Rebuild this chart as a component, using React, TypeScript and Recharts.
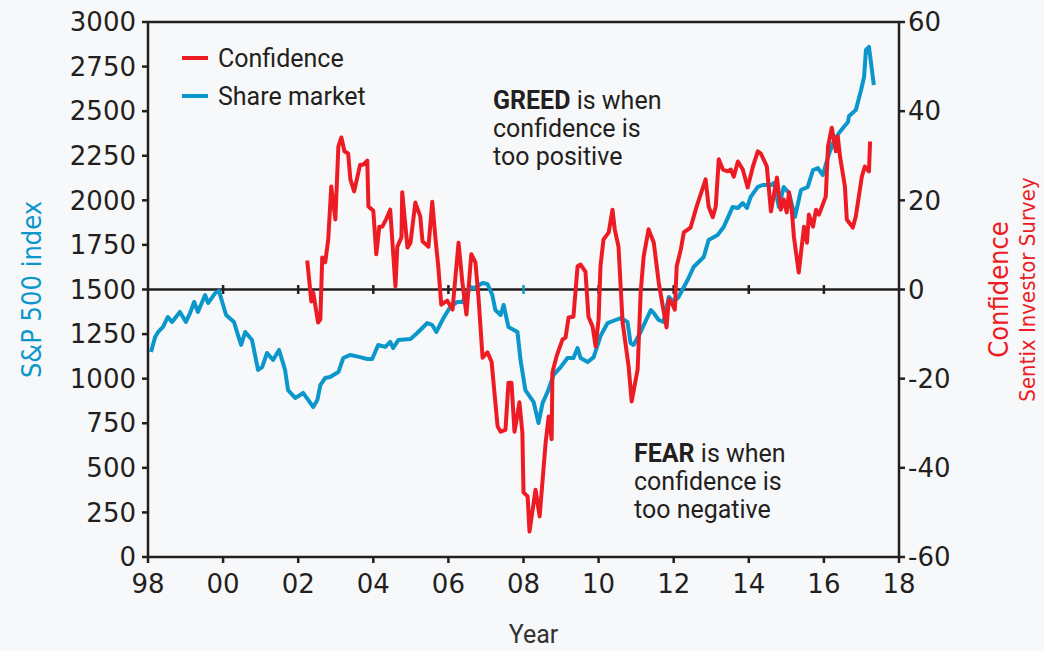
import { LineChart, Line, XAxis, YAxis, ReferenceLine, Label } from "recharts";

// Palette.
const INK = "#231f20";
const RED = "#ed1c24";
const BLUE = "#0b97cb";
const BG = "#f7f8f9";

const TICK_FONT = '"DejaVu Sans", sans-serif';
const TEXT_FONT = 'Roboto, "Noto Sans", sans-serif';
const NARROW_FONT = '"Liberation Sans Narrow", "DejaVu Sans Condensed", sans-serif';

const YEAR_TICKS = [1998, 2000, 2002, 2004, 2006, 2008, 2010, 2012, 2014, 2016, 2018];
const ZERO_LINE_TICKS = [2000, 2002, 2004, 2006, 2008, 2010, 2012, 2014, 2016];
const SP_TICKS = [0, 250, 500, 750, 1000, 1250, 1500, 1750, 2000, 2250, 2500, 2750, 3000];
const CONF_TICKS = [-60, -40, -20, 0, 20, 40, 60];

// S&P 500 index
const SHARE_YEARS = [
  1998.08, 1998.19, 1998.27, 1998.4, 1998.53, 1998.64, 1998.85,
  1999.01, 1999.12, 1999.23, 1999.33, 1999.52, 1999.6, 1999.79, 1999.89,
  2000.0, 2000.08, 2000.29, 2000.37, 2000.48, 2000.59, 2000.77, 2000.93,
  2001.04, 2001.17, 2001.33, 2001.49, 2001.57, 2001.65, 2001.73, 2001.92,
  2002.05, 2002.13, 2002.27, 2002.4, 2002.51, 2002.59, 2002.72, 2002.85,
  2003.07, 2003.2, 2003.39, 2003.65, 2003.84, 2003.97,
  2004.13, 2004.32, 2004.45, 2004.53, 2004.67, 2004.99,
  2005.17, 2005.44, 2005.57, 2005.68, 2005.87,
  2006.05, 2006.24, 2006.37, 2006.59, 2006.69, 2006.91,
  2007.04, 2007.17, 2007.25, 2007.39, 2007.47, 2007.6, 2007.84, 2007.92,
  2008.05, 2008.27, 2008.4, 2008.51, 2008.64, 2008.8, 2008.99,
  2009.17, 2009.33, 2009.44, 2009.52, 2009.71, 2009.87,
  2010.05, 2010.24, 2010.45, 2010.59, 2010.77, 2010.85, 2010.93,
  2011.12, 2011.39, 2011.47, 2011.6, 2011.73, 2011.87,
  2012.0, 2012.13, 2012.37, 2012.53, 2012.8, 2012.93,
  2013.17, 2013.33, 2013.57, 2013.71, 2013.84, 2013.95,
  2014.05, 2014.24, 2014.37, 2014.59, 2014.67, 2014.8, 2014.93,
  2015.07, 2015.23, 2015.39, 2015.57, 2015.71, 2015.84, 2015.97,
  2016.11, 2016.24, 2016.4, 2016.64, 2016.67, 2016.85, 2016.99,
  2017.07, 2017.12, 2017.2, 2017.33,
];
const SHARE_VALUES = [
  1150, 1234, 1262, 1290, 1346, 1318, 1374,
  1318, 1368, 1430, 1374, 1469, 1424, 1480, 1492,
  1413, 1357, 1318, 1262, 1189, 1262, 1217, 1049,
  1065, 1144, 1105, 1161, 1105, 1049, 936, 892,
  908, 920, 880, 841, 880, 964, 1004, 1009,
  1037, 1116, 1133, 1121, 1110, 1110,
  1189, 1178, 1206, 1172, 1217, 1222,
  1256, 1312, 1301, 1262, 1340,
  1402, 1430, 1430, 1514, 1508, 1536,
  1531, 1469, 1385, 1357, 1413, 1290, 1262, 1105,
  936, 869, 751, 864, 925, 1021, 1065,
  1116, 1116, 1172, 1116, 1093, 1121,
  1239, 1312, 1329, 1340, 1318, 1200, 1189,
  1262, 1385, 1368, 1329, 1318, 1458,
  1430, 1458, 1553, 1626, 1682, 1778,
  1806, 1850, 1963, 1957, 1985, 1957,
  2019, 2075, 2086, 2086, 2097, 1963, 2075,
  2041, 1907, 2058, 2075, 2170, 2181, 2142,
  2243, 2321, 2378, 2439, 2473, 2507, 2619,
  2692, 2843, 2860, 2647,
];

// Sentix investor confidence
const CONF_YEARS = [
  2002.24, 2002.35, 2002.4, 2002.53, 2002.59, 2002.64, 2002.72, 2002.8, 2002.88, 2002.99,
  2003.07, 2003.15, 2003.23, 2003.33, 2003.39, 2003.49, 2003.65, 2003.73, 2003.84, 2003.87,
  2004.0, 2004.08, 2004.16, 2004.24, 2004.35, 2004.45, 2004.59, 2004.64, 2004.75, 2004.77, 2004.91, 2004.99,
  2005.12, 2005.25, 2005.31, 2005.47, 2005.57, 2005.65, 2005.73, 2005.81, 2005.97,
  2006.11, 2006.27, 2006.37, 2006.48, 2006.61, 2006.72, 2006.8, 2006.91,
  2007.04, 2007.15, 2007.31, 2007.39, 2007.52, 2007.6, 2007.68, 2007.76, 2007.84, 2007.89, 2007.97,
  2008.0, 2008.11, 2008.16, 2008.32, 2008.43, 2008.59, 2008.67, 2008.75, 2008.77, 2008.88,
  2009.04, 2009.12, 2009.2, 2009.33, 2009.44, 2009.52, 2009.65, 2009.73, 2009.84, 2009.92,
  2010.0, 2010.05, 2010.13, 2010.27, 2010.37, 2010.43, 2010.53, 2010.64, 2010.8, 2010.88,
  2011.04, 2011.12, 2011.2, 2011.33, 2011.47, 2011.6, 2011.71, 2011.81, 2011.87, 2011.97,
  2012.03, 2012.08, 2012.19, 2012.27, 2012.45, 2012.61, 2012.85, 2012.93,
  2013.04, 2013.12, 2013.2, 2013.31, 2013.44, 2013.52, 2013.6, 2013.71, 2013.84, 2013.97,
  2014.11, 2014.24, 2014.32, 2014.48, 2014.59, 2014.75, 2014.85, 2014.93,
  2015.01, 2015.07, 2015.15, 2015.2, 2015.33, 2015.47, 2015.55, 2015.6, 2015.71, 2015.79, 2015.87,
  2016.05, 2016.11, 2016.21, 2016.32, 2016.37, 2016.43, 2016.56, 2016.61, 2016.77, 2016.85,
  2017.01, 2017.09, 2017.2, 2017.23,
];
const CONF_VALUES = [
  6.5, -2.7, -0.7, -7.4, -6.7, 7.2, 6.1, 11.2, 23.1, 15.7,
  32.1, 34.1, 31.0, 30.5, 24.7, 22.0, 28.0, 28.0, 28.9, 18.6,
  17.7, 7.9, 14.1, 14.1, 15.9, 17.9, 0.7, 9.6, 11.7, 21.8, 9.4, 10.5,
  19.5, 16.4, 10.8, 9.6, 19.7, 11.9, 5.2, -3.4, -2.5,
  -4.5, 10.5, 1.8, -5.6, 7.9, 6.1, -1.6, -15.3,
  -14.1, -16.2, -30.7, -31.9, -31.5, -20.9, -20.9, -31.9, -28.0, -25.3, -32.1,
  -45.5, -46.4, -54.3, -44.9, -50.9, -34.3, -28.5, -33.6, -18.6, -15.0,
  -11.2, -10.8, -6.3, -6.1, 5.2, 5.6, 4.0, -6.1, -8.3, -12.8,
  -6.7, 5.2, 11.2, 12.8, 17.9, 13.5, 9.6, -7.4, -17.3, -25.1,
  -17.9, -0.7, 7.4, 13.5, 10.5, 1.6, -3.8, -8.5, -2.2, -3.4,
  -4.5, 5.2, 9.0, 12.8, 13.9, 18.6, 24.7, 18.6,
  16.2, 18.6, 29.2, 26.9, 26.5, 26.9, 25.3, 28.7, 26.9, 22.9,
  27.6, 31.0, 30.5, 27.6, 17.5, 25.1, 17.9, 20.2,
  17.3, 21.8, 17.3, 11.9, 3.8, 14.1, 10.5, 16.8, 14.1, 17.9, 16.8,
  20.9, 32.1, 36.3, 31.0, 34.3, 29.8, 23.1, 15.7, 13.9, 16.4,
  25.3, 27.6, 26.5, 33.2,
];

const LEGEND_ITEMS = [
  { name: "Confidence", color: RED },
  { name: "Share market", color: BLUE },
];

const shareData = SHARE_YEARS.map((year, i) => ({ year, value: SHARE_VALUES[i] }));
const confData = CONF_YEARS.map((year, i) => ({ year, value: CONF_VALUES[i] }));

const tickStyle = { fill: INK, fontSize: 26, fontFamily: TICK_FONT };
const axisLine = { stroke: INK, strokeWidth: 2.5 };
const tickLine = { stroke: INK, strokeWidth: 2.5 };

function LeftTitle({ viewBox }: any) {
  const vb = viewBox || { x: 0, y: 22, width: 148, height: 535 };
  const cx = vb.x + 31;
  const cy = vb.y + vb.height / 2;
  return (
    <text
      x={cx}
      y={cy}
      transform={`rotate(-90 ${cx} ${cy})`}
      textAnchor="middle"
      dominantBaseline="central"
      fill={BLUE}
      fontSize={27}
      fontFamily={NARROW_FONT}
    >
      S&amp;P 500 index
    </text>
  );
}

function RightTitle({ viewBox }: any) {
  const vb = viewBox || { x: 899, y: 22, width: 145, height: 535 };
  const cy = vb.y + vb.height / 2;
  const x1 = vb.x + 99;
  const x2 = vb.x + 128;
  return (
    <g fill={RED} fontFamily={NARROW_FONT}>
      <text x={x1} y={cy} transform={`rotate(-90 ${x1} ${cy})`} textAnchor="middle" dominantBaseline="central" fontSize={27}>
        Confidence
      </text>
      <text x={x2} y={cy} transform={`rotate(-90 ${x2} ${cy})`} textAnchor="middle" dominantBaseline="central" fontSize={22}>
        Sentix Investor Survey
      </text>
    </g>
  );
}

const noteStyle = {
  position: "absolute" as const,
  fontFamily: TEXT_FONT,
  fontSize: 25,
  lineHeight: "28px",
  color: INK,
};

export default function App() {
  return (
    <div style={{ position: "absolute", left: 0, top: 0, width: 1044, height: 651, background: BG, overflow: "hidden" }}>
      <LineChart width={1044} height={651} margin={{ top: 22, right: 0, bottom: 0, left: 0 }}>
        <XAxis
          dataKey="year"
          type="number"
          domain={[1998, 2018]}
          ticks={YEAR_TICKS}
          tickFormatter={(v: number) => String(v % 100).padStart(2, "0")}
          allowDataOverflow
          height={94}
          tick={tickStyle}
          axisLine={axisLine}
          tickLine={tickLine}
          tickSize={6}
          tickMargin={12}
        >
          <Label value="Year" position="insideBottom" offset={8} dx={10} fill="#333" fontSize={25} fontFamily={TEXT_FONT} />
        </XAxis>
        <YAxis
          yAxisId="sp"
          domain={[0, 3000]}
          ticks={SP_TICKS}
          width={148}
          tick={tickStyle}
          axisLine={axisLine}
          tickLine={tickLine}
          tickSize={6}
          tickMargin={6}
          interval={0}
        >
          <Label content={<LeftTitle />} />
        </YAxis>
        <YAxis
          yAxisId="conf"
          orientation="right"
          domain={[-60, 60]}
          ticks={CONF_TICKS}
          width={145}
          tick={tickStyle}
          axisLine={axisLine}
          tickLine={tickLine}
          tickSize={6}
          tickMargin={3}
          interval={0}
        >
          <Label content={<RightTitle />} />
        </YAxis>
        <ReferenceLine yAxisId="sp" y={3000} stroke={INK} strokeWidth={2.5} />
        <ReferenceLine yAxisId="conf" y={0} stroke={INK} strokeWidth={2.5} />
        {ZERO_LINE_TICKS.map((yr) => (
          <ReferenceLine
            key={yr}
            yAxisId="conf"
            segment={[{ x: yr, y: -1 }, { x: yr, y: 1 }]}
            stroke={yr === 2008 ? BLUE : INK}
            strokeWidth={2.5}
          />
        ))}
        <Line
          yAxisId="sp"
          data={shareData}
          dataKey="value"
          name="Share market"
          type="linear"
          stroke={BLUE}
          strokeWidth={4}
          strokeLinejoin="round"
          dot={false}
          activeDot={false}
          isAnimationActive={false}
        />
        <Line
          yAxisId="conf"
          data={confData}
          dataKey="value"
          name="Confidence"
          type="linear"
          stroke={RED}
          strokeWidth={4}
          strokeLinejoin="round"
          dot={false}
          activeDot={false}
          isAnimationActive={false}
        />
      </LineChart>
      <div style={{ position: "absolute", left: 182, top: 39, fontFamily: TEXT_FONT, fontSize: 25, color: INK }}>
        {LEGEND_ITEMS.map((item) => (
          <div key={item.name} style={{ display: "flex", alignItems: "center", height: 38 }}>
            <span style={{ display: "inline-block", width: 26, height: 4, background: item.color, marginRight: 10 }} />
            <span>{item.name}</span>
          </div>
        ))}
      </div>
      <div style={{ ...noteStyle, left: 493, top: 87 }}>
        <b>GREED</b> is when
        <br />
        confidence is
        <br />
        too positive
      </div>
      <div style={{ ...noteStyle, left: 634, top: 440 }}>
        <b>FEAR</b> is when
        <br />
        confidence is
        <br />
        too negative
      </div>
    </div>
  );
}
